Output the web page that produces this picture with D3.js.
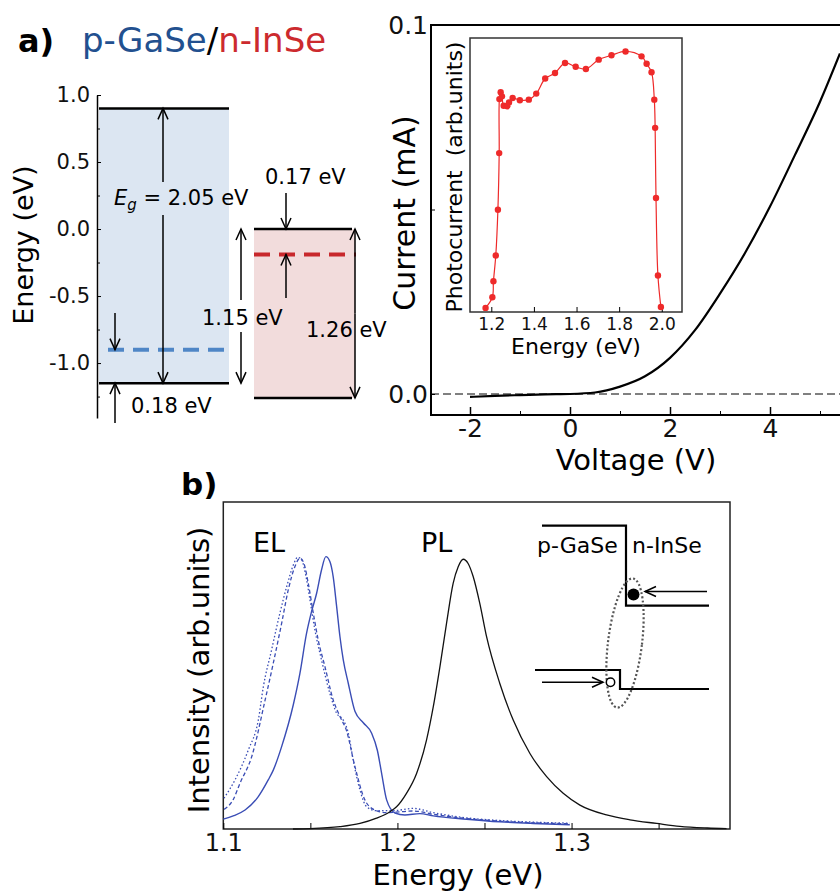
<!DOCTYPE html>
<html>
<head>
<meta charset="utf-8">
<script src="https://cdn.jsdelivr.net/npm/d3@7"></script>
<style>
body { margin: 0; background: #fff; }
text { font-family: "DejaVu Sans", sans-serif; }
</style>
</head>
<body>
<script>
// ---- data ----
// band diagram (eV)
let materials = ["p-GaSe", "n-InSe"];
let bandTop = [0.9, 0.0];
let bandBottom = [-1.15, -1.26];
let fermiLevel = [-0.9, -0.19];
let energyTicks = [1.0, 0.5, 0.0, -0.5, -1.0];
let energyMinor = [0.75, 0.25, -0.25, -0.75, -1.25];

// I-V curve
let voltage = [-2, -1.5, -1, -0.5, 0, 0.5, 1, 1.5, 2, 2.5, 3, 3.5, 4, 4.5, 5, 5.4];
let current = [-0.0008, -0.0005, -0.0003, -0.0001, 0, 0.0004, 0.002, 0.0048, 0.0098, 0.0173, 0.0272, 0.0382, 0.0508, 0.0648, 0.0792, 0.0923];
let voltTicks = [-2, 0, 2, 4];
let voltMinor = [-1, 1, 3, 5];
let currentTicks = [0, 0.1];

// photocurrent inset
let pcEnergy = [1.173, 1.205, 1.210, 1.221, 1.231, 1.237, 1.238, 1.244, 1.250, 1.258, 1.275, 1.283, 1.300, 1.334, 1.376, 1.411, 1.453, 1.499, 1.546, 1.596, 1.644, 1.704, 1.764, 1.830, 1.905, 1.929, 1.952, 1.965, 1.969, 1.973, 1.982, 1.996];
let pcValue = [0.015, 0.054, 0.112, 0.206, 0.373, 0.580, 0.777, 0.802, 0.787, 0.753, 0.751, 0.765, 0.781, 0.773, 0.775, 0.797, 0.852, 0.872, 0.909, 0.895, 0.887, 0.921, 0.937, 0.951, 0.933, 0.906, 0.875, 0.775, 0.672, 0.416, 0.133, 0.018];
let pcTicks = [1.2, 1.4, 1.6, 1.8, 2.0];

// EL / PL spectra
let plEnergy = [1.14, 1.1498, 1.167, 1.1785, 1.188, 1.1957, 1.1995, 1.2052, 1.211, 1.2167, 1.2206, 1.2244, 1.2282, 1.232, 1.2349, 1.2378, 1.2406, 1.2435, 1.2473, 1.2512, 1.2588, 1.2665, 1.2761, 1.2857, 1.2952, 1.3048, 1.3201, 1.3335, 1.3488, 1.3622, 1.378, 1.389];
let plInt = [0, 0.001, 0.007, 0.017, 0.033, 0.053, 0.068, 0.109, 0.170, 0.272, 0.374, 0.496, 0.629, 0.751, 0.802, 0.825, 0.812, 0.772, 0.690, 0.588, 0.445, 0.333, 0.231, 0.160, 0.109, 0.073, 0.043, 0.028, 0.017, 0.008, 0.003, 0.001];

let elEnergy = [1.1, 1.1057, 1.1125, 1.1201, 1.1258, 1.1287, 1.1335, 1.1402, 1.144, 1.1478, 1.1507, 1.1536, 1.1564, 1.1589, 1.1612, 1.1631, 1.1651, 1.167, 1.1689, 1.1718, 1.1756, 1.1804, 1.1852, 1.1885, 1.1909, 1.1938, 1.1986, 1.2043, 1.2129, 1.2206, 1.2397, 1.2588, 1.278, 1.299];
let elInt = [0.030, 0.040, 0.058, 0.099, 0.150, 0.180, 0.252, 0.380, 0.476, 0.598, 0.665, 0.721, 0.792, 0.833, 0.818, 0.772, 0.680, 0.588, 0.517, 0.445, 0.360, 0.325, 0.293, 0.240, 0.171, 0.089, 0.049, 0.043, 0.047, 0.040, 0.030, 0.022, 0.017, 0.013];

let elDashEnergy = [1.1005, 1.1057, 1.1096, 1.1163, 1.124, 1.1287, 1.1335, 1.1373, 1.1411, 1.144, 1.1463, 1.1488, 1.1517, 1.1545, 1.1584, 1.1631, 1.167, 1.1708, 1.1756, 1.1813, 1.187, 1.1936, 1.2091, 1.2206, 1.2397, 1.2588, 1.278, 1.299];
let elDashInt = [0.060, 0.090, 0.140, 0.221, 0.394, 0.507, 0.629, 0.731, 0.802, 0.828, 0.812, 0.751, 0.660, 0.578, 0.496, 0.395, 0.344, 0.300, 0.191, 0.089, 0.058, 0.050, 0.055, 0.045, 0.032, 0.024, 0.019, 0.016];

let elDotEnergy = [1.1004, 1.1067, 1.1144, 1.1201, 1.123, 1.1277, 1.1325, 1.1364, 1.1402, 1.1427, 1.145, 1.1475, 1.1498, 1.1526, 1.1564, 1.1612, 1.1651, 1.1689, 1.1718, 1.1746, 1.1785, 1.1823, 1.188, 1.1976, 1.2091, 1.2206, 1.2397, 1.2588, 1.278, 1.299];
let elDotInt = [0.094, 0.150, 0.242, 0.333, 0.435, 0.547, 0.660, 0.741, 0.807, 0.831, 0.823, 0.772, 0.700, 0.609, 0.517, 0.415, 0.354, 0.333, 0.293, 0.211, 0.119, 0.068, 0.056, 0.056, 0.063, 0.050, 0.034, 0.026, 0.021, 0.018];
let specTicks = [1.1, 1.2, 1.3];
let specMinor = [1.15, 1.25, 1.35];

let blueTitle = "#22508f", redTitle = "#cc2a2e";
let elBlue = "#3a4db5";

let svg = d3.select("body").append("svg")
	.attr("width", 840)
	.attr("height", 891);

//draws a line with an open arrow head at the (x2, y2) end
function arrow(g, x1, y1, x2, y2) {
	let a = Math.atan2(y2 - y1, x2 - x1);
	let len = 11, w = 5;
	let bx = x2 - len * Math.cos(a), by = y2 - len * Math.sin(a);
	let px = -Math.sin(a) * w, py = Math.cos(a) * w;
	g.append("line")
		.attr("x1", x1).attr("y1", y1).attr("x2", x2).attr("y2", y2)
		.attr("stroke", "#000").attr("stroke-width", 1.5);
	g.append("path")
		.attr("d", `M${bx + px},${by + py}L${x2},${y2}L${bx - px},${by - py}`)
		.attr("fill", "none").attr("stroke", "#000").attr("stroke-width", 1.5);
}

/* ---------------- panel a, band diagram ---------------- */
let band = svg.append("g");

band.append("text").text("a)")
	.attr("x", 18).attr("y", 52)
	.attr("font-size", 32).attr("font-weight", "bold");

let title = band.append("text").attr("x", 82).attr("y", 52).attr("font-size", 34);
title.append("tspan").text(materials[0]).attr("fill", blueTitle);
title.append("tspan").text("/").attr("fill", "#000");
title.append("tspan").text(materials[1]).attr("fill", redTitle);

let yE = d3.scaleLinear().domain([1.0, -1.41]).range([95, 418]);

let boxX = [[99, 229], [254, 355]];
let boxFill = ["#dce6f2", "#f2dcdc"];
let fermiColor = ["#4f86c6", "#c8282c"];

materials.forEach((m, i) => {
	band.append("rect")
		.attr("x", boxX[i][0]).attr("width", boxX[i][1] - boxX[i][0])
		.attr("y", yE(bandTop[i])).attr("height", yE(bandBottom[i]) - yE(bandTop[i]))
		.attr("fill", boxFill[i]);
});

// fermi levels
band.append("line")
	.attr("x1", 108).attr("x2", 229)
	.attr("y1", yE(fermiLevel[0])).attr("y2", yE(fermiLevel[0]))
	.attr("stroke", fermiColor[0]).attr("stroke-width", 4).attr("stroke-dasharray", "16,9");
band.append("line")
	.attr("x1", 254).attr("x2", 356)
	.attr("y1", yE(fermiLevel[1])).attr("y2", yE(fermiLevel[1]))
	.attr("stroke", fermiColor[1]).attr("stroke-width", 4).attr("stroke-dasharray", "16,9");

// band edges
let edgeX = [[99, 229], [254, 352]];
materials.forEach((m, i) => {
	[bandTop[i], bandBottom[i]].forEach(e => {
		band.append("line")
			.attr("x1", edgeX[i][0]).attr("x2", edgeX[i][1])
			.attr("y1", yE(e)).attr("y2", yE(e))
			.attr("stroke", "#000").attr("stroke-width", 2.5);
	});
});

// energy axis
let eAxis = d3.axisLeft(yE)
	.tickValues(energyTicks)
	.tickSizeInner(-4).tickSizeOuter(0).tickPadding(7)
	.tickFormat(d => d.toFixed(1));
let eG = band.append("g").attr("transform", "translate(97,0)").call(eAxis);
eG.select(".domain").attr("stroke-width", 1.5);
eG.selectAll("text").attr("font-size", 21).attr("font-family", "DejaVu Sans").attr("fill", "#111");
band.append("g").attr("transform", "translate(97,0)")
	.call(d3.axisLeft(yE).tickValues(energyMinor).tickSizeInner(-3).tickSizeOuter(0).tickFormat(""))
	.select(".domain").remove();

band.append("text").text("Energy (eV)")
	.attr("transform", `translate(33,${yE(-0.12)}) rotate(-90)`)
	.attr("text-anchor", "middle").attr("font-size", 27);

// annotations
arrow(band, 163, 182, 163, yE(bandTop[0]));
arrow(band, 163, 215, 163, yE(bandBottom[0]));
let eg = band.append("text").attr("x", 114).attr("y", 205).attr("font-size", 21);
eg.append("tspan").text("E").attr("font-style", "italic");
eg.append("tspan").text("g").attr("font-style", "italic").attr("font-size", 15).attr("dy", 5);
eg.append("tspan").text(" = 2.05 eV").attr("dy", -5);

arrow(band, 241, 300, 241, yE(bandTop[1]));
arrow(band, 241, 332, 241, yE(bandBottom[0]));
band.append("text").text("1.15 eV").attr("x", 202).attr("y", 325).attr("font-size", 21);

arrow(band, 355, yE(-0.63), 355, yE(bandTop[1]));
arrow(band, 355, yE(-0.63), 355, yE(bandBottom[1]));
band.append("text").text("1.26 eV").attr("x", 306).attr("y", 337).attr("font-size", 21);

arrow(band, 286, 193, 286, yE(bandTop[1]));
arrow(band, 286, 298, 286, yE(fermiLevel[1]));
band.append("text").text("0.17 eV").attr("x", 265).attr("y", 184).attr("font-size", 21);

arrow(band, 115, 313, 115, yE(fermiLevel[0]));
arrow(band, 115, 423, 115, yE(bandBottom[0]));
band.append("text").text("0.18 eV").attr("x", 131).attr("y", 413).attr("font-size", 21);

/* ---------------- panel a, I-V curve ---------------- */
let iv = svg.append("g");
let xV = d3.scaleLinear().domain([-2.78, 5.4]).range([431, 840]);
let yI = d3.scaleLinear().domain([0, 0.1]).range([394, 25]);

iv.append("line")
	.attr("x1", 431).attr("x2", 840)
	.attr("y1", yI(0)).attr("y2", yI(0))
	.attr("stroke", "#000").attr("stroke-width", 1).attr("stroke-dasharray", "8,4");

iv.append("path")
	.attr("d", "M845,25H431V415H845")
	.attr("fill", "none").attr("stroke", "#000").attr("stroke-width", 2);

let vG = iv.append("g").attr("transform", "translate(0,415)")
	.call(d3.axisBottom(xV).tickValues(voltTicks).tickSizeInner(-8).tickSizeOuter(0).tickPadding(4).tickFormat(d => String(d)));
vG.select(".domain").remove();
vG.selectAll("line").attr("stroke-width", 1.5);
vG.selectAll("text").attr("font-size", 25).attr("font-family", "DejaVu Sans").attr("fill", "#111");
iv.append("g").attr("transform", "translate(0,415)")
	.call(d3.axisBottom(xV).tickValues(voltMinor).tickSizeInner(-4).tickSizeOuter(0).tickFormat(""))
	.select(".domain").remove();

let iG = iv.append("g").attr("transform", "translate(431,0)")
	.call(d3.axisLeft(yI).tickValues(currentTicks).tickSizeInner(-4).tickSizeOuter(0).tickPadding(3).tickFormat(d => d.toFixed(1)));
iG.select(".domain").remove();
iG.selectAll("text").attr("font-size", 25).attr("font-family", "DejaVu Sans").attr("fill", "#111");
iv.append("g").attr("transform", "translate(431,0)")
	.call(d3.axisLeft(yI).tickValues([0.05]).tickSizeInner(-4).tickSizeOuter(0).tickFormat(""))
	.select(".domain").remove();

iv.append("text").text("Voltage (V)")
	.attr("x", 636).attr("y", 470)
	.attr("text-anchor", "middle").attr("font-size", 29);
iv.append("text").text("Current (mA)")
	.attr("transform", "translate(415,213) rotate(-90)")
	.attr("text-anchor", "middle").attr("font-size", 30);

let ivLine = d3.line()
	.x((d, i) => xV(voltage[i]))
	.y(d => yI(d))
	.curve(d3.curveMonotoneX);
iv.append("path")
	.datum(current)
	.attr("fill", "none").attr("stroke", "#000").attr("stroke-width", 2.2)
	.attr("d", ivLine);

/* ---------------- photocurrent inset ---------------- */
let inset = svg.append("g");
let xP = d3.scaleLinear().domain([1.1, 2.095]).range([470, 682]);
let yP = d3.scaleLinear().domain([0, 1]).range([312, 38]);

inset.append("rect")
	.attr("x", 470).attr("y", 38).attr("width", 212).attr("height", 274)
	.attr("fill", "#fff").attr("stroke", "#333").attr("stroke-width", 1.5);

let pG = inset.append("g").attr("transform", "translate(0,312)")
	.call(d3.axisBottom(xP).tickValues(pcTicks).tickSizeInner(-5).tickSizeOuter(0).tickPadding(6).tickFormat(d => d.toFixed(1)));
pG.select(".domain").remove();
pG.selectAll("text").attr("font-size", 17).attr("font-family", "DejaVu Sans").attr("fill", "#111");

inset.append("text").text("Energy (eV)")
	.attr("x", 576).attr("y", 354)
	.attr("text-anchor", "middle").attr("font-size", 22);
inset.append("text").text("Photocurrent  (arb.units)")
	.attr("transform", "translate(462,177) rotate(-90)")
	.attr("text-anchor", "middle").attr("font-size", 22)
	.style("white-space", "pre");

let pcLine = d3.line()
	.x((d, i) => xP(pcEnergy[i]))
	.y(d => yP(d))
	.curve(d3.curveCatmullRom.alpha(0.5));
inset.append("path")
	.datum(pcValue)
	.attr("fill", "none").attr("stroke", "#ee2a2a").attr("stroke-width", 1.2)
	.attr("d", pcLine);
inset.selectAll("circle")
	.data(pcValue)
	.enter().append("circle")
	.attr("cx", (d, i) => xP(pcEnergy[i]))
	.attr("cy", d => yP(d))
	.attr("r", 3.2)
	.attr("fill", "#ee2a2a");

/* ---------------- panel b, EL / PL ---------------- */
let spec = svg.append("g");
let xB = d3.scaleLinear().domain([1.1, 1.391]).range([223.3, 730]);
let yB = d3.scaleLinear().domain([0, 1]).range([829, 502]);

spec.append("text").text("b)")
	.attr("x", 181).attr("y", 495)
	.attr("font-size", 31).attr("font-weight", "bold");

spec.append("rect")
	.attr("x", 223.3).attr("y", 502).attr("width", 730 - 223.3).attr("height", 327)
	.attr("fill", "none").attr("stroke", "#222").attr("stroke-width", 1.5);

let bG = spec.append("g").attr("transform", "translate(0,829)")
	.call(d3.axisBottom(xB).tickValues(specTicks).tickSizeInner(-6).tickSizeOuter(0).tickPadding(5).tickFormat(d => d.toFixed(1)));
bG.select(".domain").remove();
bG.selectAll("text").attr("font-size", 24).attr("font-family", "DejaVu Sans").attr("fill", "#111");
spec.append("g").attr("transform", "translate(0,829)")
	.call(d3.axisBottom(xB).tickValues(specMinor).tickSizeInner(-6).tickSizeOuter(0).tickFormat(""))
	.select(".domain").remove();

spec.append("text").text("Energy (eV)")
	.attr("x", 458).attr("y", 885)
	.attr("text-anchor", "middle").attr("font-size", 29);
spec.append("text").text("Intensity (arb.units)")
	.attr("transform", "translate(209,670) rotate(-90)")
	.attr("text-anchor", "middle").attr("font-size", 29);

function specLine(xs) {
	return d3.line()
		.x((d, i) => xB(xs[i]))
		.y(d => yB(d))
		.curve(d3.curveMonotoneX);
}

spec.append("path").datum(elDotInt)
	.attr("fill", "none").attr("stroke", elBlue).attr("stroke-width", 1.3)
	.attr("stroke-dasharray", "1.5,2.2")
	.attr("d", specLine(elDotEnergy));
spec.append("path").datum(elDashInt)
	.attr("fill", "none").attr("stroke", elBlue).attr("stroke-width", 1.3)
	.attr("stroke-dasharray", "4,2.5")
	.attr("d", specLine(elDashEnergy));
spec.append("path").datum(elInt)
	.attr("fill", "none").attr("stroke", elBlue).attr("stroke-width", 1.4)
	.attr("d", specLine(elEnergy));
spec.append("path").datum(plInt)
	.attr("fill", "none").attr("stroke", "#111").attr("stroke-width", 1.3)
	.attr("d", specLine(plEnergy));

spec.append("text").text("EL").attr("x", 253).attr("y", 552).attr("font-size", 27);
spec.append("text").text("PL").attr("x", 421).attr("y", 552).attr("font-size", 27);

// small heterojunction sketch
let sk = spec.append("g");
sk.append("path").attr("d", "M542,525.7H626V605.7H709")
	.attr("fill", "none").attr("stroke", "#000").attr("stroke-width", 2.2);
sk.append("path").attr("d", "M535,670H620V689H709")
	.attr("fill", "none").attr("stroke", "#000").attr("stroke-width", 2.2);
sk.append("text").text("p-GaSe").attr("x", 537).attr("y", 553).attr("font-size", 22);
sk.append("text").text("n-InSe").attr("x", 632).attr("y", 553).attr("font-size", 22);
sk.append("ellipse")
	.attr("cx", 0).attr("cy", 0).attr("rx", 17).attr("ry", 65)
	.attr("transform", "translate(625,643) rotate(7)")
	.attr("fill", "none").attr("stroke", "#555").attr("stroke-width", 2.2)
	.attr("stroke-dasharray", "2,2.2");
sk.append("circle").attr("cx", 633.5).attr("cy", 594.5).attr("r", 6).attr("fill", "#000");
arrow(sk, 707, 591.5, 645, 591.5);
sk.append("circle").attr("cx", 610.5).attr("cy", 682.3).attr("r", 4.2)
	.attr("fill", "#fff").attr("stroke", "#000").attr("stroke-width", 1.5);
arrow(sk, 542, 682.3, 603, 682.3);
</script>
</body>
</html>
